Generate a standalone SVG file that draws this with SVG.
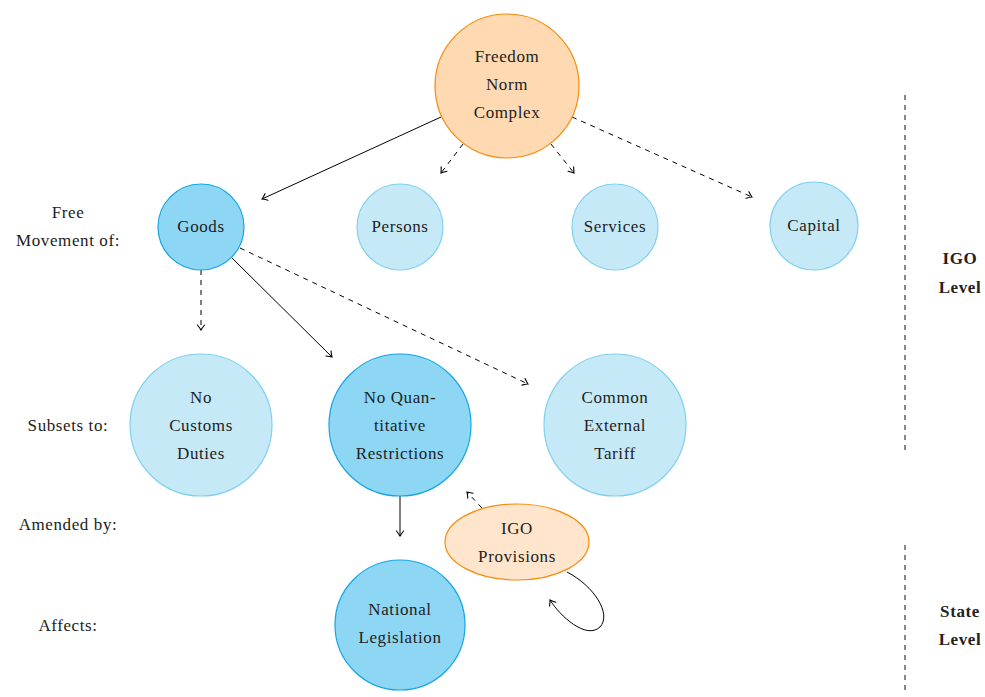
<svg xmlns="http://www.w3.org/2000/svg" width="985" height="697" viewBox="0 0 985 697">
<defs>
<marker id="arr" viewBox="-6 -5 8 10" markerWidth="8" markerHeight="10" refX="0" refY="0" orient="auto" markerUnits="userSpaceOnUse">
<path d="M -5 -3.6 Q -1.5 -0.8 0 0 Q -1.5 0.8 -5 3.6" fill="none" stroke="#000" stroke-width="1.1" stroke-linecap="round"/>
</marker>
</defs>
<style>
text{font-size:17px;letter-spacing:0.6px;fill:#222;text-anchor:middle}
.b{font-weight:bold}
.dark{fill:#8dd7f5;stroke:#14a5e3;stroke-width:1.2}
.light{fill:#c6e9f8;stroke:#7fd0f0;stroke-width:1.2}
.or{fill:#ffd9b1;stroke:#f58b0c;stroke-width:1.2}
.or2{fill:#ffe5cc;stroke:#f58b0c;stroke-width:1.2}
.e{fill:none;stroke:#000;stroke-width:1;marker-end:url(#arr)}
.d{stroke-dasharray:5 5}
.sep{fill:none;stroke:#111;stroke-width:1;stroke-dasharray:5 5}
</style>
<g font-family="Liberation Serif, serif">
<g id="connectors">
<line class="e" x1="441" y1="117" x2="262" y2="199"/>
<line class="e d" x1="463" y1="144" x2="441" y2="173"/>
<line class="e d" x1="551" y1="144" x2="574" y2="173"/>
<line class="e d" x1="572" y1="117" x2="752" y2="197"/>
<line class="e d" x1="201" y1="270" x2="201" y2="330"/>
<line class="e" x1="232" y1="258" x2="332" y2="357"/>
<line class="e d" x1="240" y1="248" x2="528" y2="384"/>
<line class="e" x1="400" y1="496" x2="400" y2="536"/>
<line class="e d" x1="482" y1="508" x2="467" y2="492"/>
<path class="e" d="M 567 572 C 594 586 612 614 600 627 C 586 640 560 616 550 600"/>
</g>
<g id="fnc"><circle class="or" cx="507" cy="86" r="72"/><text x="507" y="62">Freedom</text><text x="507" y="90">Norm</text><text x="507" y="118">Complex</text></g>
<g id="goods"><circle class="dark" cx="201" cy="227" r="43"/><text x="201" y="232">Goods</text></g>
<g id="persons"><circle class="light" cx="400" cy="227" r="43"/><text x="400" y="232">Persons</text></g>
<g id="services"><circle class="light" cx="615" cy="227" r="43"/><text x="615" y="232">Services</text></g>
<g id="capital"><circle class="light" cx="814" cy="226" r="44"/><text x="814" y="231">Capital</text></g>
<g id="customs"><circle class="light" cx="201" cy="425" r="71"/><text x="201" y="403">No</text><text x="201" y="431">Customs</text><text x="201" y="459">Duties</text></g>
<g id="quant"><circle class="dark" cx="400" cy="425" r="71"/><text x="400" y="403">No Quan-</text><text x="400" y="431">titative</text><text x="400" y="459">Restrictions</text></g>
<g id="tariff"><circle class="light" cx="615" cy="425" r="71"/><text x="615" y="403">Common</text><text x="615" y="431">External</text><text x="615" y="459">Tariff</text></g>
<g id="igo"><ellipse class="or2" cx="517" cy="542" rx="72" ry="38"/><text x="517" y="534">IGO</text><text x="517" y="562">Provisions</text></g>
<g id="national"><circle class="dark" cx="400" cy="625" r="65"/><text x="400" y="615">National</text><text x="400" y="643">Legislation</text></g>
<g id="labels">
<text x="68" y="218">Free</text><text x="68" y="246">Movement of:</text>
<text x="68" y="431">Subsets to:</text>
<text x="68" y="530">Amended by:</text>
<text x="68" y="631">Affects:</text>
<text class="b" x="960" y="264">IGO</text><text class="b" x="960" y="293">Level</text>
<text class="b" x="960" y="617">State</text><text class="b" x="960" y="645">Level</text>
</g>
<g id="separators">
<line class="sep" x1="905" y1="95" x2="905" y2="452"/>
<line class="sep" x1="905" y1="545" x2="905" y2="692"/>
</g>
</g>
</svg>
